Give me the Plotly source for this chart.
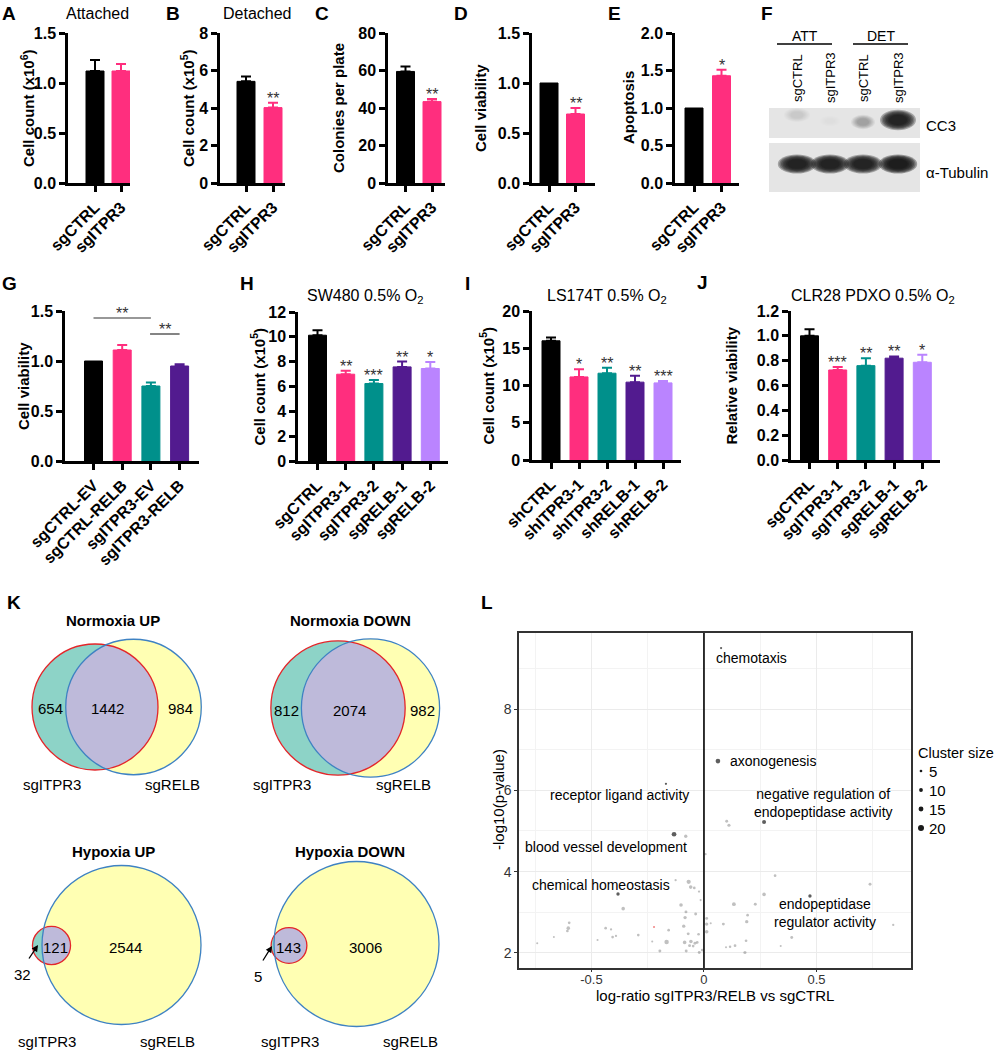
import numpy as np
import plotly.graph_objects as go

W, H = 999, 1050
OX, OY = 0, 0
FONT = "Liberation Sans, Arial, Helvetica, sans-serif"
BLACK, PINK, TEAL, PURPLE, LAV = "#000000", "#FF2E7E", "#00908B", "#521B8F", "#BA84FF"

# ---------------- data: bar panels ----------------
ab_cats = ["sgCTRL", "sgITPR3"]
a_vals = [1.12, 1.12]
a_errs = [0.11, 0.07]
a_stars = ["", ""]
b_vals = [5.42, 4.02]
b_errs = [0.26, 0.26]
b_stars = ["", "**"]
c_vals = [59.5, 43.4]
c_errs = [2.6, 1.4]
c_stars = ["", "**"]
d_vals = [1.0, 0.69]
d_errs = [0.0, 0.06]
d_stars = ["", "**"]
e_vals = [1.0, 1.43]
e_errs = [0.0, 0.08]
e_stars = ["", "*"]

g_cats = ["sgCTRL-EV", "sgCTRL-RELB", "sgITPR3-EV", "sgITPR3-RELB"]
g_vals = [1.0, 1.11, 0.75, 0.95]
g_errs = [0.0, 0.05, 0.035, 0.018]
g_stars = ["", "", "", ""]

h_cats = ["sgCTRL", "sgITPR3-1", "sgITPR3-2", "sgRELB-1", "sgRELB-2"]
h_vals = [10.13, 6.99, 6.24, 7.58, 7.45]
h_errs = [0.40, 0.28, 0.28, 0.43, 0.53]
h_stars = ["", "**", "***", "**", "*"]

i_cats = ["shCTRL", "shITPR3-1", "shITPR3-2", "shRELB-1", "shRELB-2"]
i_vals = [16.0, 11.15, 11.65, 10.45, 10.35]
i_errs = [0.45, 1.02, 0.72, 0.85, 0.27]
i_stars = ["", "*", "**", "**", "***"]

j_cats = ["sgCTRL", "sgITPR3-1", "sgITPR3-2", "sgRELB-1", "sgRELB-2"]
j_vals = [1.0, 0.725, 0.76, 0.82, 0.787]
j_errs = [0.053, 0.024, 0.059, 0.014, 0.061]
j_stars = ["", "***", "**", "**", "*"]

# ---------------- data: western blot ----------------
blot_lanes = ["sgCTRL", "sgITPR3", "sgCTRL", "sgITPR3"]
blot_groups = ["ATT", "DET"]
cc3_intensity = [0.10, 0.03, 0.30, 0.92]
tub_intensity = [0.93, 0.93, 0.92, 0.95]

# ---------------- data: venn ----------------
venn_titles = ["Normoxia UP", "Normoxia DOWN", "Hypoxia UP", "Hypoxia DOWN"]
venn_only_itpr3 = [654, 812, 32, 5]
venn_both = [1442, 2074, 121, 143]
venn_only_relb = [984, 982, 2544, 3006]
venn_sets = ["sgITPR3", "sgRELB"]

# ---------------- data: GO scatter ----------------
lab_names = ["chemotaxis", "axonogenesis", "receptor ligand activity",
             "blood vessel development", "chemical homeostasis",
             "negative regulation of<br>endopeptidase activity",
             "endopeptidase<br>regulator activity"]
lab_x = [0.076, 0.062, -0.169, -0.133, -0.382, 0.267, 0.471]
lab_y = [9.50, 6.72, 6.16, 4.92, 3.45, 5.22, 3.40]
lab_size = [3, 14, 3, 14, 8, 11, 8]

bg_x = [-0.599, -0.603, -0.607, -0.667, -0.741, -0.437, -0.413, -0.406, -0.391, -0.473,
        -0.359, -0.292, -0.230, -0.196, -0.166, -0.157, -0.126, -0.102, -0.081, -0.068,
        -0.059, -0.043, -0.022, -0.015, -0.080, -0.084, -0.090, -0.037, -0.070, -0.024,
        -0.086, -0.058, -0.064, -0.040, -0.030, -0.048, -0.079, -0.021, -0.008, 0.007,
        0.012, 0.012, 0.012, 0.030, 0.086, 0.101, 0.111, 0.133, 0.190, 0.194,
        0.228, 0.098, 0.116, 0.138, 0.187, 0.182, 0.316, 0.267, 0.390, 0.341,
        0.738, 0.841]
bg_y = [2.74, 2.61, 2.54, 2.39, 2.24, 2.61, 2.58, 2.39, 2.42, 2.32,
        3.09, 2.44, 2.28, 2.05, 2.27, 2.56, 3.79, 3.18, 4.87, 3.75,
        3.62, 3.60, 3.51, 3.30, 3.01, 2.87, 2.66, 2.96, 2.47, 2.46,
        2.26, 2.28, 2.18, 2.24, 2.26, 2.17, 2.05, 2.01, 2.07, 4.43,
        2.85, 2.71, 2.52, 2.73, 2.71, 5.24, 5.14, 3.20, 2.77, 2.93,
        3.20, 2.14, 2.15, 2.18, 2.30, 2.01, 3.90, 3.44, 2.38, 2.17,
        3.69, 2.69]
bg_size = [5, 9, 5, 2, 2, 5, 3, 5, 3, 2,
           9, 5, 2, 6, 13, 5, 3, 9, 8, 12,
           9, 5, 3, 2, 6, 8, 8, 6, 6, 5,
           9, 9, 6, 6, 5, 5, 6, 6, 5, 3,
           6, 8, 9, 2, 6, 6, 7, 10, 8, 5,
           6, 2, 4, 5, 5, 7, 5, 9, 6, 2,
           6, 3]
red_x = [-0.222]
red_y = [2.64]
red_size = [2]
legend_sizes = [5, 10, 15, 20]


def dot_px(cs):
    return 1.6 + 0.22 * cs


fig = go.Figure()
shapes, annos = [], []


def X(p):
    return (p - OX) / W


def Y(p):
    return 1 - (p - OY) / H


def text(px, py, s, size=15, bold=False, color="black", xanchor="center",
         yanchor="middle", angle=0):
    annos.append(dict(x=X(px), y=Y(py), xref="paper", yref="paper", text=s,
                      showarrow=False, textangle=angle,
                      font=dict(family=FONT, size=size, color=color,
                                weight="bold" if bold else "normal"),
                      xanchor=xanchor, yanchor=yanchor))


# ---------------- bar panels ----------------
C2 = [BLACK, PINK]
C5 = [BLACK, PINK, TEAL, PURPLE, LAV]
panels = [
    dict(cats=ab_cats, vals=a_vals, errs=a_errs, stars=a_stars, cols=C2, box=(68, 130, 33, 183),
         c0=95, sp=26, ymax=1.5, dtick=0.5, fmt=".1f", yt="Cell count (x10<sup>6</sup>)", tx=27),
    dict(cats=ab_cats, vals=b_vals, errs=b_errs, stars=b_stars, cols=C2, box=(220, 285, 33, 183),
         c0=246, sp=27, ymax=8, dtick=2, fmt="d", yt="Cell count (x10<sup>5</sup>)", tx=187),
    dict(cats=ab_cats, vals=c_vals, errs=c_errs, stars=c_stars, cols=C2, box=(388, 445, 33, 183),
         c0=405.5, sp=26.5, ymax=80, dtick=20, fmt="d", yt="Colonies per plate", tx=338),
    dict(cats=ab_cats, vals=d_vals, errs=d_errs, stars=d_stars, cols=C2, box=(532, 595, 33, 183),
         c0=549, sp=26.5, ymax=1.5, dtick=0.5, fmt=".1f", yt="Cell viability", tx=480),
    dict(cats=ab_cats, vals=e_vals, errs=e_errs, stars=e_stars, cols=C2, box=(675, 739, 33, 183),
         c0=694, sp=27.5, ymax=2.0, dtick=0.5, fmt=".1f", yt="Apoptosis", tx=628),
    dict(cats=g_cats, vals=g_vals, errs=g_errs, stars=g_stars, cols=[BLACK, PINK, TEAL, PURPLE],
         box=(65, 199, 311, 461), c0=93.5, sp=28.7, ymax=1.5, dtick=0.5, fmt=".1f",
         yt="Cell viability", tx=23),
    dict(cats=h_cats, vals=h_vals, errs=h_errs, stars=h_stars, cols=C5, box=(298, 448, 312, 461),
         c0=317.5, sp=28.2, ymax=12, dtick=2, fmt="d", yt="Cell count (x10<sup>5</sup>)", tx=258),
    dict(cats=i_cats, vals=i_vals, errs=i_errs, stars=i_stars, cols=C5, box=(532, 681, 311, 460),
         c0=551, sp=28, ymax=20, dtick=5, fmt="d", yt="Cell count (x10<sup>5</sup>)", tx=487),
    dict(cats=j_cats, vals=j_vals, errs=j_errs, stars=j_stars, cols=C5, box=(791, 940, 311, 460),
         c0=809.5, sp=28.2, ymax=1.2, dtick=0.2, fmt=".1f", yt="Relative viability", tx=731),
]

layout_axes = {}
for idx, p in enumerate(panels, start=1):
    xa = "x" if idx == 1 else f"x{idx}"
    ya = "y" if idx == 1 else f"y{idx}"
    left, right, top, bot = p["box"]
    n = len(p["cats"])
    bw = 18.0 / p["sp"]
    for k in range(n):
        e = p["errs"][k]
        fig.add_trace(go.Bar(
            x=[k], y=[p["vals"][k]], width=bw, xaxis=xa, yaxis=ya,
            marker=dict(color=p["cols"][k], line=dict(color=p["cols"][k], width=1)),
            error_y=dict(type="data", array=[e], arrayminus=[0], symmetric=False,
                         visible=e > 0, color=p["cols"][k], thickness=2, width=5),
            hoverinfo="skip"))
        if p["stars"][k]:
            annos.append(dict(x=k, y=p["vals"][k] + e, xref=xa, yref=ya, text=p["stars"][k],
                              showarrow=False, yanchor="bottom", yshift=-6,
                              font=dict(family=FONT, size=16, color="#333333")))
    axfont = dict(family=FONT, size=16, color="black", weight="bold")
    layout_axes["xaxis" if idx == 1 else f"xaxis{idx}"] = dict(
        domain=[X(left), X(right)], anchor=ya, automargin=False,
        range=[(left - p["c0"]) / p["sp"], (right - p["c0"]) / p["sp"]],
        tickmode="array", tickvals=list(range(n)), ticktext=p["cats"], tickangle=-45,
        ticks="outside", ticklen=6, tickwidth=2.5, tickcolor="black",
        showline=True, linewidth=2.5, linecolor="black", showgrid=False, zeroline=False,
        tickfont=axfont, fixedrange=True)
    layout_axes["yaxis" if idx == 1 else f"yaxis{idx}"] = dict(
        domain=[Y(bot), Y(top)], anchor=xa, automargin=False, range=[0, p["ymax"]],
        dtick=p["dtick"], tick0=0,
        tickformat=p["fmt"], ticks="outside", ticklen=6, tickwidth=2.5, tickcolor="black",
        showline=True, linewidth=2.5, linecolor="black", showgrid=False, zeroline=False,
        tickfont=axfont, fixedrange=True)
    text(p["tx"], (top + bot) / 2, p["yt"], size=15, bold=True, angle=-90)

# G significance brackets
for x0, x1, yv in [(0, 2, 1.43), (1.97, 3.0, 1.27)]:
    shapes.append(dict(type="line", xref="x6", yref="y6", x0=x0, x1=x1, y0=yv, y1=yv,
                       line=dict(color="#333333", width=1.2)))
    annos.append(dict(x=(x0 + x1) / 2, y=yv, xref="x6", yref="y6", text="**", showarrow=False,
                      yanchor="bottom", yshift=-6, font=dict(family=FONT, size=16, color="#333333")))

# panel titles
text(97, 13, "Attached", 16)
text(257, 13, "Detached", 16)
text(365, 296, "SW480 0.5% O<sub>2</sub>", 16)
text(607, 296, "LS174T 0.5% O<sub>2</sub>", 16)
text(873, 296, "CLR28 PDXO 0.5% O<sub>2</sub>", 16)

# panel letters
for L, lx, ly in [("A", 9, 13), ("B", 173, 13), ("C", 322, 13), ("D", 461, 13), ("E", 614, 13),
                  ("F", 767, 13), ("G", 9, 283), ("H", 247, 283), ("I", 467, 283),
                  ("J", 702, 282), ("K", 14, 602), ("L", 487, 602)]:
    text(lx, ly, L, 19, bold=True)

# ---------------- western blot (panel F) ----------------
lane_px = [797, 830, 863, 898]
shapes.append(dict(type="rect", xref="paper", yref="paper", x0=X(769), x1=X(920), y0=Y(138), y1=Y(108),
                   fillcolor="#e5e5e5", line=dict(width=0), layer="above"))
shapes.append(dict(type="rect", xref="paper", yref="paper", x0=X(769), x1=X(920), y0=Y(192), y1=Y(143),
                   fillcolor="#e5e5e5", line=dict(width=0), layer="above"))


def band(cx, cy, w, h, inten, nl=7):
    if inten <= 0:
        return
    a = 1 - (1 - inten) ** (1.0 / nl)
    for k in range(nl):
        f = 1.2 - k * 0.1
        shapes.append(dict(type="circle", xref="paper", yref="paper",
                           x0=X(cx - w * f / 2), x1=X(cx + w * f / 2),
                           y0=Y(cy + h * f / 2), y1=Y(cy - h * f / 2),
                           fillcolor="#151515", opacity=a, line=dict(width=0), layer="above"))


cc3_w = [22, 18, 20, 30]
cc3_h = [12, 10, 12, 17]
cc3_y = [115, 121, 122, 120]
for k, cx in enumerate(lane_px):
    band(cx, cc3_y[k], cc3_w[k], cc3_h[k], cc3_intensity[k])
    band(cx, 164, 32, 16, tub_intensity[k])
    text(cx, 78, blot_lanes[k], 13, angle=-90)
for g, (gx0, gx1) in zip(blot_groups, [(777, 832), (853, 908)]):
    shapes.append(dict(type="line", xref="paper", yref="paper", x0=X(gx0), x1=X(gx1), y0=Y(44), y1=Y(44),
                       line=dict(color="black", width=1.5)))
    text((gx0 + gx1) / 2, 36, g, 14)
text(924, 125, "CC3", 15, xanchor="left")
text(924, 172, "α-Tubulin", 15, xanchor="left")

# ---------------- venn diagrams (panel K) ----------------
venn_layout = [
    dict(c1=(95, 707), c2=(133.5, 707), k=1.376, title=(113, 620), n1=(50, 708), nb=(107, 708),
         n2=(180, 708), s1=(52, 784), s2=(172, 784), arrow=None),
    dict(c1=(338, 708), c2=(370.5, 708), k=1.25, title=(350, 620), n1=(286, 710), nb=(349, 710),
         n2=(422, 710), s1=(282, 784), s2=(403, 784), arrow=None),
    dict(c1=(51.5, 945.5), c2=(121.5, 945), k=1.54, title=(113, 851), n1=(22, 974), nb=(55, 948),
         n2=(125, 948), s1=(47, 1041), s2=(167, 1041), arrow=((28, 960), (38, 945))),
    dict(c1=(289, 945.5), c2=(356.5, 944), k=1.47, title=(350, 851), n1=(258, 976), nb=(288, 947),
         n2=(365, 947), s1=(290, 1041), s2=(410, 1041), arrow=((262, 962), (272, 946))),
]


def circ(c, r, fill, line):
    d = dict(type="circle", xref="paper", yref="paper", x0=X(c[0] - r), x1=X(c[0] + r),
             y0=Y(c[1] + r), y1=Y(c[1] - r), layer="above")
    if fill:
        d["fillcolor"] = fill
        d["line"] = dict(width=0)
    else:
        d["line"] = dict(color=line, width=1.3)
    return d


def lens(c1, r1, c2, r2):
    t = np.linspace(0, 2 * np.pi, 1440, endpoint=False)
    x1, y1 = c1[0] + r1 * np.cos(t), c1[1] + r1 * np.sin(t)
    x2, y2 = c2[0] + r2 * np.cos(t), c2[1] + r2 * np.sin(t)
    m1 = (x1 - c2[0]) ** 2 + (y1 - c2[1]) ** 2 <= r2 ** 2
    m2 = (x2 - c1[0]) ** 2 + (y2 - c1[1]) ** 2 <= r1 ** 2
    xs = np.concatenate([x1[m1], x2[m2]])
    ys = np.concatenate([y1[m1], y2[m2]])
    cx, cy = xs.mean(), ys.mean()
    o = np.argsort(np.arctan2(ys - cy, xs - cx))
    pts = [f"{X(a):.5f},{Y(b):.5f}" for a, b in zip(xs[o], ys[o])]
    return "M " + " L ".join(pts) + " Z"


for v, lay in enumerate(venn_layout):
    r1 = lay["k"] * np.sqrt(venn_only_itpr3[v] + venn_both[v])
    r2 = lay["k"] * np.sqrt(venn_both[v] + venn_only_relb[v])
    shapes.append(circ(lay["c1"], r1, "#8DD3C7", None))
    shapes.append(circ(lay["c2"], r2, "#FFFFB3", None))
    shapes.append(dict(type="path", xref="paper", yref="paper", path=lens(lay["c1"], r1, lay["c2"], r2),
                       fillcolor="#BEBADA", line=dict(width=0), layer="above"))
    shapes.append(circ(lay["c1"], r1, None, "#E3262A"))
    shapes.append(circ(lay["c2"], r2, None, "#3E82C3"))
    text(*lay["title"], venn_titles[v], 15, bold=True)
    text(*lay["n1"], str(venn_only_itpr3[v]), 15)
    text(*lay["nb"], str(venn_both[v]), 15)
    text(*lay["n2"], str(venn_only_relb[v]), 15)
    text(*lay["s1"], venn_sets[0], 15)
    text(*lay["s2"], venn_sets[1], 15)
    if lay["arrow"]:
        (ax0, ay0), (ax1, ay1) = lay["arrow"]
        annos.append(dict(x=X(ax1), y=Y(ay1), xref="paper", yref="paper", text="", showarrow=True,
                          ax=ax0 - ax1, ay=ay0 - ay1, arrowhead=2, arrowsize=1, arrowwidth=1.3,
                          arrowcolor="black", standoff=0, startstandoff=0))

# ---------------- GO scatter (panel L) ----------------
fig.add_trace(go.Scatter(x=bg_x, y=bg_y, mode="markers", xaxis="x10", yaxis="y10",
                         marker=dict(size=[dot_px(s) for s in bg_size], color="rgba(105,105,105,0.6)",
                                     line=dict(width=0)), hoverinfo="skip"))
fig.add_trace(go.Scatter(x=red_x, y=red_y, mode="markers", xaxis="x10", yaxis="y10",
                         marker=dict(size=[dot_px(s) for s in red_size], color="rgba(230,40,40,0.8)",
                                     line=dict(width=0)), hoverinfo="skip"))
fig.add_trace(go.Scatter(x=lab_x, y=lab_y, mode="markers", xaxis="x10", yaxis="y10",
                         marker=dict(size=[dot_px(s) for s in lab_size], color="#1a1a1a",
                                     line=dict(width=0)), hoverinfo="skip"))
# label placements (repelled text positions)
lab_tx = [0.209, 0.307, -0.376, -0.436, -0.458, 0.533, 0.538]
lab_ty = [9.25, 6.72, 5.89, 4.61, 3.68, 5.68, 2.99]
for nm, tx_, ty_ in zip(lab_names, lab_tx, lab_ty):
    annos.append(dict(x=tx_, y=ty_, xref="x10", yref="y10", text=nm, showarrow=False,
                      font=dict(family=FONT, size=14, color="black")))
shapes.append(dict(type="line", xref="x10", yref="y10 domain", x0=0, x1=0, y0=0, y1=1,
                   line=dict(color="black", width=1.6)))
gfont = dict(family=FONT, size=13, color="#333333")
layout_axes["xaxis10"] = dict(
    domain=[X(519), X(911)], anchor="y10", automargin=False, range=[-0.822, 0.92],
    tickmode="array", tickvals=[-0.5, 0, 0.5], ticktext=["-0.5", "0", "0.5"],
    ticks="outside", ticklen=2, tickcolor="#333333", showline=True, mirror=True,
    ticklabelstandoff=-3,
    linecolor="#333333", linewidth=1.5, showgrid=True, gridcolor="#ebebeb", gridwidth=0.8,
    minor=dict(tickmode="array", tickvals=[-0.75, -0.25, 0.25, 0.75], showgrid=True,
               gridcolor="#f3f3f3", gridwidth=0.5),
    zeroline=False, tickfont=gfont, fixedrange=True)
layout_axes["yaxis10"] = dict(
    domain=[Y(968), Y(633)], anchor="x10", automargin=False, range=[1.63, 9.87],
    tickmode="array", tickvals=[2, 4, 6, 8], ticktext=["2", "4", "6", "8"],
    ticks="outside", ticklen=3, tickcolor="#333333", showline=True, mirror=True,
    linecolor="#333333", linewidth=1.5, showgrid=True, gridcolor="#ebebeb", gridwidth=0.8,
    minor=dict(tickmode="array", tickvals=[3, 5, 7, 9], showgrid=True,
               gridcolor="#f3f3f3", gridwidth=0.5),
    zeroline=False, tickfont=dict(family=FONT, size=14, color="#333333"), fixedrange=True)
text(498, 800, "-log10(p-value)", 15, angle=-90)
text(715, 995, "log-ratio sgITPR3/RELB vs sgCTRL", 15)

# legend (cluster size)
text(916, 753, "Cluster size", 14.5, xanchor="left")
for s, ly in zip(legend_sizes, [771, 790, 809, 828]):
    r = dot_px(s) / 2
    shapes.append(dict(type="circle", xref="paper", yref="paper", x0=X(921 - r), x1=X(921 + r),
                       y0=Y(ly + r), y1=Y(ly - r), fillcolor="#1a1a1a", line=dict(width=0),
                       layer="above"))
    text(927, ly, str(s), 15, xanchor="left")

fig.update_layout(
    template="none",
    width=W, height=H, margin=dict(l=0, r=0, t=0, b=0, pad=0, autoexpand=False), showlegend=False,
    paper_bgcolor="white", plot_bgcolor="white", barmode="overlay",
    font=dict(family=FONT, color="black"),
    shapes=shapes, annotations=annos, **layout_axes)

fig.write_html("out.html", config={"displayModeBar": False},
               post_script="document.body.style.margin='0px';document.body.style.overflow='hidden';")
